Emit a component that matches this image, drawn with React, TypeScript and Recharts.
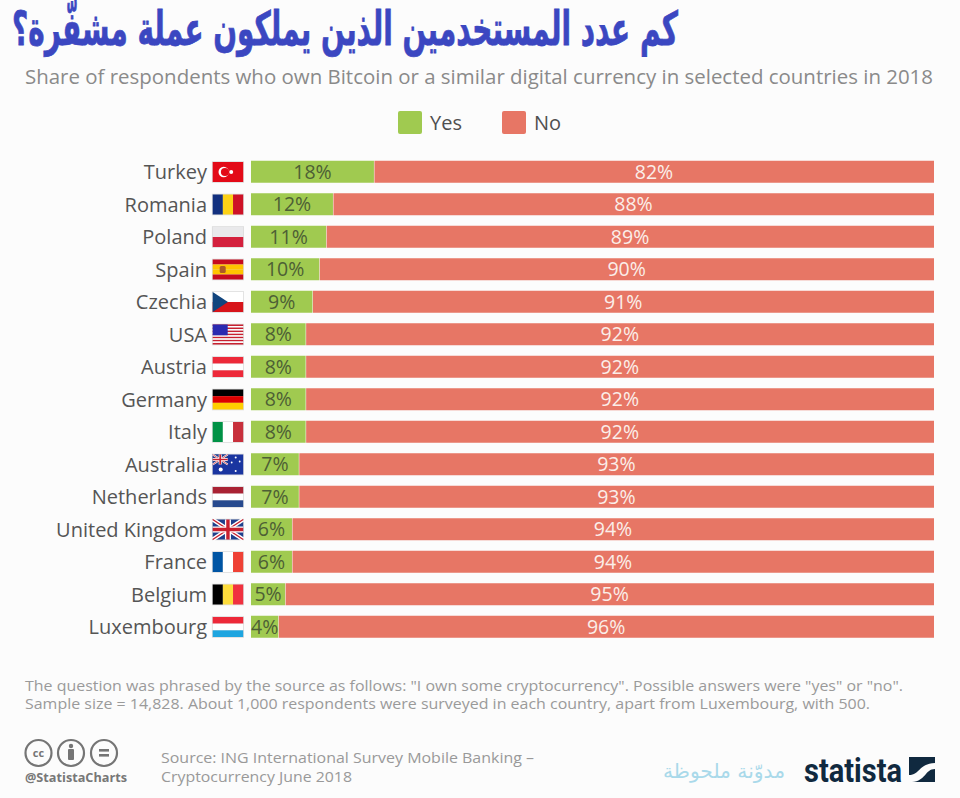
import React from "react";
import { BarChart, Bar, XAxis, YAxis, LabelList, Legend, Rectangle } from "recharts";

const countries = ["Turkey","Romania","Poland","Spain","Czechia","USA","Austria","Germany","Italy","Australia","Netherlands","United Kingdom","France","Belgium","Luxembourg"];
const yesValues = [18,12,11,10,9,8,8,8,8,7,7,6,6,5,4];
const noValues = [82,88,89,90,91,92,92,92,92,93,93,94,94,95,96];
const data = countries.map((country, i) => ({ country, Yes: yesValues[i], No: noValues[i] }));

const FONT = "'Open Sans', sans-serif";
const BG = "#fcfcfc";
const GREEN = "#a0ca50";
const RED = "#e77665";

const W = 30.5, H = 20;
const hStripes = (c: string[]) => c.map((f, i) => <rect key={i} x={0} y={(i * H) / c.length} width={W} height={H / c.length} fill={f} />);
const vStripes = (c: string[]) => c.map((f, i) => <rect key={i} x={(i * W) / c.length} y={0} width={W / c.length} height={H} fill={f} />);

const UnionJack = ({ w, h }: { w: number; h: number }) => (
  <g>
    <rect width={w} height={h} fill="#1f3f8c" />
    <path d={`M0 0L${w} ${h}M${w} 0L0 ${h}`} stroke="#fff" strokeWidth={h * 0.2} />
    <path d={`M0 0L${w} ${h}M${w} 0L0 ${h}`} stroke="#c8202f" strokeWidth={h * 0.07} />
    <path d={`M${w / 2} 0V${h}M0 ${h / 2}H${w}`} stroke="#fff" strokeWidth={h * 0.3} />
    <path d={`M${w / 2} 0V${h}M0 ${h / 2}H${w}`} stroke="#c8202f" strokeWidth={h * 0.17} />
  </g>
);

const flags: Record<string, React.ReactNode> = {
  Turkey: (
    <g>
      <rect width={W} height={H} fill="#e30a17" />
      <circle cx={11} cy={10} r={5.2} fill="#fff" />
      <circle cx={12.3} cy={10} r={4.1} fill="#e30a17" />
      <circle cx={18.5} cy={10} r={2} fill="#fff" />
    </g>
  ),
  Romania: vStripes(["#12307f", "#fcd116", "#ce1126"]),
  Poland: hStripes(["#e9e9eb", "#d4213d"]),
  Spain: (
    <g>
      {hStripes(["#c60b1e", "#ffc400", "#ffc400", "#c60b1e"])}
      <rect x={7} y={6.5} width={6} height={7} rx={1.5} fill="#ad5a25" />
    </g>
  ),
  Czechia: (
    <g>
      {hStripes(["#ffffff", "#d7141a"])}
      <path d={`M0 0L${W / 2} ${H / 2}L0 ${H}Z`} fill="#11457e" />
    </g>
  ),
  USA: (
    <g>
      {hStripes(["#c8202f","#fff","#c8202f","#fff","#c8202f","#fff","#c8202f","#fff","#c8202f","#fff","#c8202f","#fff","#c8202f"])}
      <rect width={15} height={10.8} fill="#2a2ab0" />
    </g>
  ),
  Austria: hStripes(["#ed2939", "#ffffff", "#ed2939"]),
  Germany: hStripes(["#000000", "#dd0000", "#ffce00"]),
  Italy: vStripes(["#009246", "#ffffff", "#c8303c"]),
  Australia: (
    <g>
      <rect width={W} height={H} fill="#1a35a0" />
      <UnionJack w={15} h={10} />
      <circle cx={8} cy={15} r={2} fill="#fff" />
      <circle cx={23} cy={3} r={1} fill="#fff" />
      <circle cx={23} cy={16.5} r={1} fill="#fff" />
      <circle cx={19} cy={8} r={0.9} fill="#fff" />
      <circle cx={27} cy={7} r={0.9} fill="#fff" />
    </g>
  ),
  Netherlands: hStripes(["#a92233", "#ffffff", "#274a8e"]),
  "United Kingdom": <UnionJack w={W} h={H} />,
  France: vStripes(["#0055a4", "#ffffff", "#ef4135"]),
  Belgium: vStripes(["#000000", "#fddc3c", "#f0313f"]),
  Luxembourg: hStripes(["#ed2939", "#ffffff", "#1ea5e0"]),
};

const CountryTick = (props: any) => {
  const { x, y, payload } = props;
  return (
    <g>
      <text x={x - 36} y={y} dy={7} textAnchor="end" fontFamily={FONT} fontSize={20} fill="#555555">{payload.value}</text>
      <g transform={`translate(${x - 30.3},${y - 10})`}>
        <rect x={-0.8} y={-0.8} width={W + 1.6} height={H + 1.6} fill="#dcdcdc" />
        {flags[payload.value]}
      </g>
    </g>
  );
};

const NoBar = (props: any) => <Rectangle {...props} x={props.x + 0.5} width={props.width - 0.5} />;

const LegendContent = () => (
  <div style={{ position: "relative", width: 960, height: 40, fontFamily: FONT, fontSize: 20, color: "#4f4f4f" }}>
    <div style={{ position: "absolute", left: 398, top: 0, width: 24, height: 23, background: GREEN, borderRadius: 2 }} />
    <div style={{ position: "absolute", left: 430, top: -2, lineHeight: "27px" }}>Yes</div>
    <div style={{ position: "absolute", left: 502, top: 0, width: 24, height: 23, background: RED, borderRadius: 2 }} />
    <div style={{ position: "absolute", left: 534, top: -2, lineHeight: "27px" }}>No</div>
  </div>
);

const Overlay = () => (
  <svg width={960} height={798} style={{ position: "absolute", left: 0, top: 0, pointerEvents: "none" }}>
    <g transform="translate(0,45) scale(1,1.3)">
      <text x={678} y={0} direction="rtl" textAnchor="start" fontFamily="'DejaVu Sans', sans-serif" fontWeight={700} fontSize={36} fill="#3b47c1" stroke="#3b47c1" strokeWidth={0.6} textLength={666} lengthAdjust="spacingAndGlyphs">كم عدد المستخدمين الذين يملكون عملة مشفّرة؟</text>
    </g>
    <text x={25} y={84} fontFamily={FONT} fontSize={20.5} fill="#8a8a8a" textLength={908} lengthAdjust="spacingAndGlyphs">Share of respondents who own Bitcoin or a similar digital currency in selected countries in 2018</text>
    <text x={25} y={691} fontFamily={FONT} fontSize={14.5} fill="#9a9a9a" textLength={878} lengthAdjust="spacingAndGlyphs">{'The question was phrased by the source as follows: "I own some cryptocurrency". Possible answers were "yes" or "no".'}</text>
    <text x={25} y={709} fontFamily={FONT} fontSize={14.5} fill="#9a9a9a" textLength={845} lengthAdjust="spacingAndGlyphs">Sample size = 14,828. About 1,000 respondents were surveyed in each country, apart from Luxembourg, with 500.</text>

    <g fill="none" stroke="#757575" strokeWidth={2.2}>
      <circle cx={38.5} cy={753} r={13} />
      <circle cx={71} cy={753} r={13} />
      <circle cx={104} cy={753} r={13} />
    </g>
    <text x={38.5} y={757} textAnchor="middle" fontFamily={FONT} fontWeight={700} fontSize={11} fill="#757575">cc</text>
    <circle cx={71} cy={746} r={2.2} fill="#757575" />
    <rect x={68} y={749} width={6} height={11} rx={1} fill="#757575" />
    <rect x={99} y={749} width={10} height={2.6} fill="#757575" />
    <rect x={99} y={754} width={10} height={2.6} fill="#757575" />
    <text x={25} y={782} fontFamily={FONT} fontWeight={700} fontSize={13} fill="#777777" textLength={102} lengthAdjust="spacingAndGlyphs">@StatistaCharts</text>

    <text x={161} y={763} fontFamily={FONT} fontSize={15} fill="#999999" textLength={373} lengthAdjust="spacingAndGlyphs">Source: ING International Survey Mobile Banking –</text>
    <text x={161} y={782} fontFamily={FONT} fontSize={15} fill="#999999" textLength={191} lengthAdjust="spacingAndGlyphs">Cryptocurrency June 2018</text>

    <text x={785} y={778} direction="rtl" textAnchor="start" fontFamily="'DejaVu Sans', sans-serif" fontSize={20} fill="#a9d9ea" textLength={122} lengthAdjust="spacingAndGlyphs">مدوّنة ملحوظة</text>
    <text x={804} y={782} fontFamily="'Roboto', sans-serif" fontWeight={700} fontSize={34} fill="#10293f" textLength={98} lengthAdjust="spacingAndGlyphs">statista</text>
    <rect x={909} y={757} width={26} height={25} fill="#10293f" />
    <path d="M909 775C920 775 918 764 935 763V769C925 769 926 781 912 782H909Z" fill={BG} />
  </svg>
);

export default function App() {
  return (
    <div style={{ position: "absolute", left: 0, top: 0, width: 960, height: 798, background: BG, overflow: "hidden" }}>
      <BarChart
        width={960}
        height={798}
        data={data}
        layout="vertical"
        barSize={22}
        barCategoryGap={0}
        margin={{ top: 155.75, right: 26, bottom: 154.75, left: 0 }}
      >
        <XAxis type="number" domain={[0, 100]} hide />
        <YAxis type="category" dataKey="country" width={251} axisLine={false} tickLine={false} interval={0} tick={<CountryTick />} />
        <Legend
          verticalAlign="middle"
          content={<LegendContent />}
          wrapperStyle={{ position: "absolute", left: 0, top: 111, width: 960 }}
        />
        <Bar dataKey="Yes" stackId="a" fill={GREEN} isAnimationActive={false}>
          <LabelList dataKey="Yes" position="center" formatter={(v: number) => `${v}%`} fontFamily={FONT} fontSize={19.5} fill="#4d5f35" />
        </Bar>
        <Bar dataKey="No" stackId="a" fill={RED} shape={<NoBar />} isAnimationActive={false}>
          <LabelList dataKey="No" position="center" formatter={(v: number) => `${v}%`} fontFamily={FONT} fontSize={19.5} fill="#fbeee9" />
        </Bar>
      </BarChart>
      <Overlay />
    </div>
  );
}
